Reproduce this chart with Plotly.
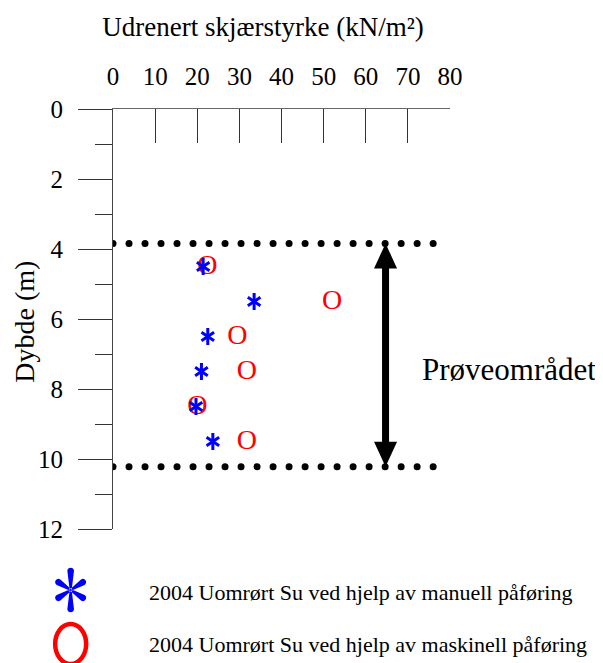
import numpy as np
import plotly.graph_objects as go

# ---- data ----
depth = [4.5, 5.5, 6.5, 7.5, 8.5, 9.5]
su_manual = [21.4, 33.5, 22.5, 21.0, 19.7, 23.7]     # blue asterisks
su_machine = [22.4, 52.0, 29.5, 31.8, 20.0, 31.8]    # red O
x_tickvals = [0, 10, 20, 30, 40, 50, 60, 70, 80]
y_tickvals = [0, 2, 4, 6, 8, 10, 12]
zone_top = 3.84
zone_bottom = 10.22
zone_x_end = 76
arrow_x = 64.7
zone_label = "Prøveområdet"
x_title = "Udrenert skjærstyrke (kN/m²)"
y_title = "Dybde (m)"
legend_manual = "2004 Uomrørt Su ved hjelp av manuell påføring"
legend_machine = "2004 Uomrørt Su ved hjelp av maskinell påføring"

FONT = "Liberation Serif"
BLUE = "#0000FF"
RED = "#FF0000"
OFF = 8  # page body margin

fig = go.Figure()

# dotted zone boundaries
n_dots = 21
for yv in (zone_top, zone_bottom):
    xs = np.linspace(0, zone_x_end, n_dots)
    fig.add_trace(go.Scatter(x=xs, y=[yv] * n_dots, mode="markers",
                             marker=dict(size=7, color="black"),
                             hoverinfo="skip", showlegend=False))

# red O (machine)
fig.add_trace(go.Scatter(x=su_machine, y=depth, mode="text", text=["O"] * len(depth),
                         textposition="middle center",
                         textfont=dict(family=FONT, size=28, color=RED),
                         name=legend_machine, showlegend=False))

# blue asterisks (manual) - six-armed star from two Y symbols
for sym in ("y-up-open", "y-down-open"):
    fig.add_trace(go.Scatter(x=su_manual, y=depth, mode="markers",
                             marker=dict(symbol=sym, size=10.5, color=BLUE,
                                         line=dict(color=BLUE, width=3)),
                             name=legend_manual, showlegend=False))

# double headed arrow spanning the test zone: shaft + two heads
fig.add_shape(type="line", xref="x", yref="y", x0=arrow_x, x1=arrow_x,
              y0=zone_top + 0.4, y1=zone_bottom - 0.4,
              line=dict(color="black", width=7))
fig.add_shape(type="path", xref="x", yref="y", xsizemode="pixel", ysizemode="pixel",
              xanchor=arrow_x, yanchor=zone_top, path="M0,0 L-11.5,-25 L11.5,-25 Z",
              fillcolor="black", line=dict(width=0))
fig.add_shape(type="path", xref="x", yref="y", xsizemode="pixel", ysizemode="pixel",
              xanchor=arrow_x, yanchor=zone_bottom, path="M0,0 L-11.5,25 L11.5,25 Z",
              fillcolor="black", line=dict(width=0))

# zone label
fig.add_annotation(x=0.911, y=0.379, xref="paper", yref="paper", text=zone_label,
                   showarrow=False, xanchor="left", yanchor="middle",
                   font=dict(family=FONT, size=31, color="black"))

# y title
fig.add_annotation(x=-0.262, y=0.493, xref="paper", yref="paper", text=y_title,
                   textangle=-90, showarrow=False, xanchor="center", yanchor="middle",
                   font=dict(family=FONT, size=28, color="black"))


# ---- legend (drawn manually) ----
def asterisk_path():
    arms = [(0, 23), (0, -23), (15.5, 10), (-15.5, 10), (15.5, -10), (-15.5, -10)]
    parts = []
    for ex, ey in arms:
        L = (ex * ex + ey * ey) ** 0.5
        ux, uy = ex / L, ey / L
        px, py = -uy, ux
        A = (px * 1.0, py * 1.0)
        B = (ux * (L - 4) + px * 3.3, uy * (L - 4) + py * 3.3)
        C = (ux * (L - 4) - px * 3.3, uy * (L - 4) - py * 3.3)
        D = (-px * 1.0, -py * 1.0)
        B2 = (B[0] + ux * 4.4, B[1] + uy * 4.4)
        C2 = (C[0] + ux * 4.4, C[1] + uy * 4.4)
        f = lambda p: "%.2f,%.2f" % p
        parts.append("M%s L%s C%s %s %s L%s Z" % (f(A), f(B), f(B2), f(C2), f(C), f(D)))
    return " ".join(parts)


fig.add_shape(type="path", path=asterisk_path(), xref="paper", yref="paper",
              xsizemode="pixel", ysizemode="pixel", xanchor=-0.1256, yanchor=-0.1452,
              fillcolor=BLUE, line=dict(width=0))
fig.add_shape(type="circle", xref="paper", yref="paper",
              xsizemode="pixel", ysizemode="pixel", xanchor=-0.1256, yanchor=-0.2738,
              x0=-15.5, x1=15.5, y0=-20, y1=20,
              line=dict(color=RED, width=4.5), fillcolor="rgba(0,0,0,0)")

fig.add_annotation(x=(147 - 113.3) / 336.7, y=-0.152, xref="paper", yref="paper",
                   text=legend_manual, showarrow=False, xanchor="left", yanchor="middle",
                   font=dict(family=FONT, size=22, color="black"))
fig.add_annotation(x=(147 - 113.3) / 336.7, y=-0.276, xref="paper", yref="paper",
                   text=legend_machine, showarrow=False, xanchor="left", yanchor="middle",
                   font=dict(family=FONT, size=22, color="black"))

fig.update_layout(
    width=603, height=663,
    margin=dict(l=113 - OFF, r=603 - (113 - OFF) - 337, t=109 - OFF,
                b=663 - (109 - OFF) - 420, pad=0),
    paper_bgcolor="white", plot_bgcolor="white",
    font=dict(family=FONT, color="black"),
    showlegend=False,
    title=dict(text=x_title, x=(263 - OFF) / 603, xref="container", xanchor="center",
               y=1 - (27 - OFF) / 663, yref="container", yanchor="middle",
               font=dict(family=FONT, size=27, color="black")),
    xaxis=dict(range=[0, 80], side="top", tickvals=x_tickvals,
               ticks="inside", ticklen=34, tickwidth=1, tickcolor="#333",
               showline=True, linecolor="#666", linewidth=1.2,
               showgrid=False, zeroline=False,
               tickfont=dict(family=FONT, size=25, color="black"),
               ticklabelstandoff=13),
    yaxis=dict(range=[12, 0], tickvals=y_tickvals,
               ticks="outside", ticklen=34, tickwidth=1, tickcolor="#333",
               showline=True, linecolor="#444", linewidth=1.2,
               showgrid=False, zeroline=False,
               minor=dict(dtick=1, ticks="outside", ticklen=17, tickcolor="#333", tickwidth=1),
               tickfont=dict(family=FONT, size=25, color="black"),
               ticklabelstandoff=10),
)

fig.write_html("out.html")
